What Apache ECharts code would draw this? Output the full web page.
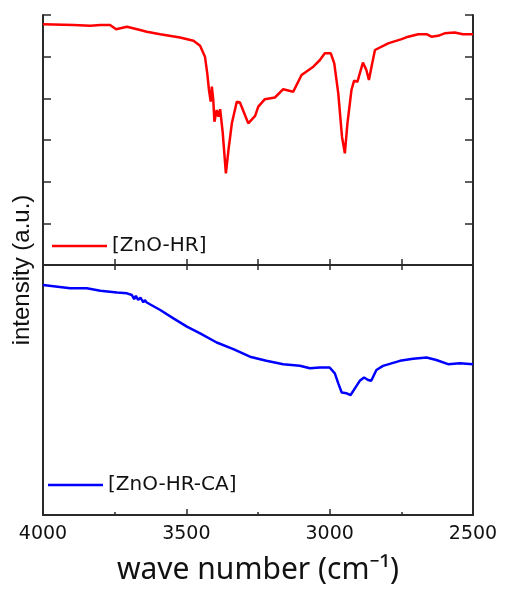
<!DOCTYPE html>
<html>
<head>
<meta charset="utf-8">
<script src="https://cdn.jsdelivr.net/npm/echarts@6/dist/echarts.min.js"></script>
<style>
html,body{margin:0;padding:0;background:#fff;}
#c{width:506px;height:589px;}
</style>
</head>
<body>
<div id="c"></div>
<script>
// Top panel: [ZnO-HR]
const hrWave = [4000,3893,3835,3800,3766,3745,3707,3661,3638,3591,3522,3475,3452,3435,3427,3421,3415,3411,3406,3402,3394,3388,3382,3373,3362,3353,3341,3324,3313,3284,3260,3249,3226,3191,3162,3127,3098,3057,3034,3017,2996,2984,2970,2957,2947,2938,2924,2915,2903,2884,2872,2863,2854,2842,2796,2749,2726,2691,2662,2645,2622,2599,2564,2535,2500];
const hrValue = [57.8,57.6,57.4,57.6,57.6,56.6,57.2,56.4,56.0,55.4,54.6,53.8,52.6,50.0,46.0,42.0,39.2,42.8,39.6,34.4,37.2,35.6,37.4,31.7,22.0,27.6,34.1,39.2,39.0,34.0,35.8,38.0,39.8,40.2,42.2,41.6,45.6,47.6,49.2,50.8,50.8,48.4,41.2,30.8,26.8,34.0,42.0,44.2,44.0,48.6,46.8,44.4,47.6,51.6,53.2,54.2,54.8,55.4,55.4,54.8,55.0,55.6,55.8,55.4,55.4];
// Bottom panel: [ZnO-HR-CA]
const caWave = [4000,3905,3847,3800,3742,3707,3690,3682,3676,3668,3660,3650,3645,3638,3591,3545,3498,3452,3394,3336,3278,3221,3162,3104,3069,3034,3000,2982,2970,2958,2941,2927,2912,2895,2880,2866,2855,2837,2814,2755,2709,2662,2628,2587,2546,2500];
const caValue = [55.2,54.4,54.4,53.8,53.4,53.2,52.8,51.8,52.6,51.6,52.2,51.0,51.6,51.0,49.2,47.2,45.2,43.6,41.4,39.8,38.0,37.0,36.2,35.8,35.2,35.4,35.4,34.0,31.6,29.4,29.2,28.8,30.4,32.2,33.0,32.4,32.2,34.8,35.8,37.0,37.5,37.8,37.2,36.2,36.4,36.2];
const xTickLabels = ['4000','3500','3000','2500'];
const seriesNames = ['[ZnO-HR]','[ZnO-HR-CA]'];
const xTitle = 'wave number (cm\u207B\u00B9)';
const yTitle = 'intensity (a.u.)';

const hrData = hrWave.map((w,i)=>[w,hrValue[i]]);
const caData = caWave.map((w,i)=>[w,caValue[i]]);

const frame = {show:true, lineStyle:{color:'#2a2a2a', width:2}};
const tickStyle = {color:'#2a2a2a', width:1.5};
const legendText = {fontFamily:'DejaVu Sans', fontSize:20, color:'#111'};
const chart = echarts.init(document.getElementById('c'));
chart.setOption({
  animation:false,
  backgroundColor:'#fff',
  grid:[
    {left:43, top:15, width:430, height:250},
    {left:43, top:265, width:430, height:250}
  ],
  xAxis:[
    {gridIndex:0, type:'value', min:2500, max:4000, interval:250, inverse:true, position:'bottom',
     axisLine:frame, axisTick:{show:true, inside:true, length:6, lineStyle:tickStyle},
     axisLabel:{show:false}, splitLine:{show:false}},
    {gridIndex:0, type:'value', min:2500, max:4000, interval:250, inverse:true, position:'top',
     axisLine:frame, axisTick:{show:true, inside:true, length:5, lineStyle:tickStyle},
     axisLabel:{show:false}, splitLine:{show:false}},
    {gridIndex:1, type:'value', min:2500, max:4000, interval:500, inverse:true, position:'bottom',
     axisLine:frame, axisTick:{show:true, inside:true, length:6, lineStyle:tickStyle},
     minorTick:{show:true, splitNumber:2, length:3, lineStyle:tickStyle},
     axisLabel:{show:true, margin:10, color:'#111', fontFamily:'DejaVu Sans', fontSize:19,
       formatter:(v)=> xTickLabels.indexOf(String(v))>=0 ? String(v) : ''},
     splitLine:{show:false},
     name:xTitle, nameLocation:'middle', nameGap:40,
     nameTextStyle:{fontFamily:'Noto Sans', fontSize:30, color:'#111'}}
  ],
  yAxis:[
    {gridIndex:0, type:'value', min:0, max:60, interval:10, position:'left',
     axisLine:frame, axisTick:{show:true, inside:true, length:8, lineStyle:tickStyle},
     axisLabel:{show:false}, splitLine:{show:false}},
    {gridIndex:0, type:'value', min:0, max:60, interval:10, position:'right',
     axisLine:frame, axisTick:{show:true, inside:true, length:8, lineStyle:tickStyle},
     axisLabel:{show:false}, splitLine:{show:false}},
    {gridIndex:1, type:'value', min:0, max:60, interval:10, position:'left',
     axisLine:frame, axisTick:{show:false}, axisLabel:{show:false}, splitLine:{show:false}},
    {gridIndex:1, type:'value', min:0, max:60, interval:10, position:'right',
     axisLine:frame, axisTick:{show:false}, axisLabel:{show:false}, splitLine:{show:false}}
  ],
  legend:[
    {data:[seriesNames[0]], left:47, top:231, icon:'rect', itemWidth:55, itemHeight:2.5, itemGap:5,
     textStyle:legendText},
    {data:[seriesNames[1]], left:43, top:470, icon:'rect', itemWidth:55, itemHeight:2.5, itemGap:5,
     textStyle:legendText}
  ],
  graphic:[
    {type:'text', x:22, y:270, rotation:Math.PI/2,
     style:{text:yTitle, fontFamily:'Liberation Sans', fontSize:24, fill:'#111',
       textAlign:'center', textVerticalAlign:'middle'}}
  ],
  series:[
    {name:seriesNames[0], type:'line', xAxisIndex:0, yAxisIndex:0, data:hrData,
     symbol:'none', showSymbol:false, lineStyle:{color:'#ff0000', width:2.5}, itemStyle:{color:'#ff0000'}},
    {name:seriesNames[1], type:'line', xAxisIndex:2, yAxisIndex:2, data:caData,
     symbol:'none', showSymbol:false, lineStyle:{color:'#0000ff', width:2.5}, itemStyle:{color:'#0000ff'}}
  ]
});
</script>
</body>
</html>
